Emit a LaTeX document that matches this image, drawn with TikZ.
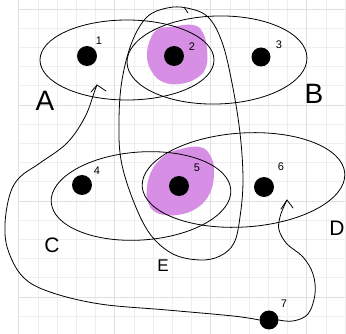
\documentclass[tikz,border=0pt]{standalone}
\usepackage{fontspec}
\setmainfont{Liberation Sans}
\usetikzlibrary{shapes.geometric}
\definecolor{blob}{RGB}{214,143,229}
\definecolor{gridminor}{RGB}{238,238,238}
\definecolor{gridmajor}{RGB}{224,224,224}
\begin{document}
\begin{tikzpicture}[x=1pt,y=-1pt,
  setshape/.style={draw, ellipse, line width=0.8pt, inner sep=0pt, outer sep=0pt},
  dot/.style={circle, fill=black, inner sep=0pt, minimum size=20pt},
  num/.style={font=\fontsize{11}{11}\selectfont, inner sep=0pt},
  biglab/.style={font=\fontsize{28}{28}\selectfont, inner sep=0pt},
  midlab/.style={font=\fontsize{21}{21}\selectfont, inner sep=0pt},
  smalllab/.style={font=\fontsize{17}{17}\selectfont, inner sep=0pt},
  conn/.style={line width=0.8pt, line join=round, line cap=round},
  minorline/.style={draw=gridminor, line width=0.7pt},
  majorline/.style={draw=gridmajor, line width=0.9pt}]
\useasboundingbox (0,0) rectangle (346,334);
\fill[white] (0,0) rectangle (346,334);
% grid
\foreach \i in {0,...,17} {\draw[minorline] ({18.8+19.2*\i},0) -- ({18.8+19.2*\i},334);}
\foreach \j in {0,...,16} {\draw[minorline] (18.8,{9+19.2*\j}) -- (346,{9+19.2*\j});}
\foreach \i in {0,...,3} {\draw[majorline] ({18.8+96*\i},0) -- ({18.8+96*\i},334);}
\foreach \j in {0,...,3} {\draw[majorline] (18.8,{9+96*\j}) -- (346,{9+96*\j});}
% blobs
\fill[blob] plot[smooth cycle, tension=0.7] coordinates {(170,27) (193,25) (203,33) (207,50) (206,67) (197,78) (180,84) (163,82) (152,72) (147,57) (150,40) (158,29)};
\fill[blob] plot[smooth cycle, tension=0.7] coordinates {(177,150) (200,147) (211,157) (214,173) (210,193) (197,208) (177,215) (157,213) (148,202) (147,187) (152,170) (163,157)};
% sets
\node[setshape, minimum width=174pt, minimum height=80pt] (A) at (127,60) {};
\node[setshape, minimum width=180pt, minimum height=88pt, rotate=1.6] (B) at (217,60) {};
\node[setshape, minimum width=180pt, minimum height=88pt, rotate=4] (C) at (141,196) {};
\node[setshape, minimum width=203pt, minimum height=94pt, rotate=3.7] (D) at (243.5,180) {};
% E loop
\draw[line width=0.8pt] plot[smooth cycle, tension=0.6] coordinates {(187,8) (208,17) (222,42) (232,83) (240,133) (243,180) (240,217) (234,243) (220,256) (200,260) (173,254) (150,234) (133,200) (121,160) (119,120) (122,80) (132,42) (147,17) (167,8)};
\draw[line width=0.8pt] (184,7) -- (188,13);
% dots
\node[dot] (d1) at (87,56) {};
\node[dot] (d2) at (174,56) {};
\node[dot, minimum size=19pt] (d3) at (261,57) {};
\node[dot] (d4) at (82,185) {};
\node[dot] (d5) at (179,186) {};
\node[dot] (d6) at (264,187) {};
\node[dot, minimum size=19pt] (d7) at (269,320) {};
% numbers
\node[num] (n1) at (99,41) {1};
\node[num] (n2) at (192,47) {2};
\node[num] (n3) at (279,45) {3};
\node[num] (n4) at (97,171) {4};
\node[num] (n5) at (197,168) {5};
\node[num] (n6) at (281,167) {6};
\node[num] (n7) at (284,304) {7};
% set labels
\node[biglab] (lA) at (45,101) {A};
\node[biglab] (lB) at (314,94) {B};
\node[midlab] (lC) at (52,245) {C};
\node[midlab] (lD) at (337,228) {D};
\node[smalllab] (lE) at (163,266) {E};
% connectors
\coordinate (t1) at (97,85);
\coordinate (t6) at (287,200);
\draw[conn] plot[smooth, tension=0.6] coordinates {(d7.west) (233,316) (167,310) (100,304) (50,292) (23,277) (8,250) (5,224) (10,194) (20,177) (40,163) (67,143) (85,117) (95,90) (t1)};
\draw[conn] (t1) -- ++(-6,7) (t1) -- ++(9,6);
\draw[conn] plot[smooth, tension=0.6] coordinates {(d7.east) (293,321) (308,314) (315,294) (313,274) (303,257) (287,244) (279,230) (280,217) (285,204) (t6)};
\draw[conn] (t6) -- ++(-6,9) (t6) -- ++(6,8);
\end{tikzpicture}
\end{document}
